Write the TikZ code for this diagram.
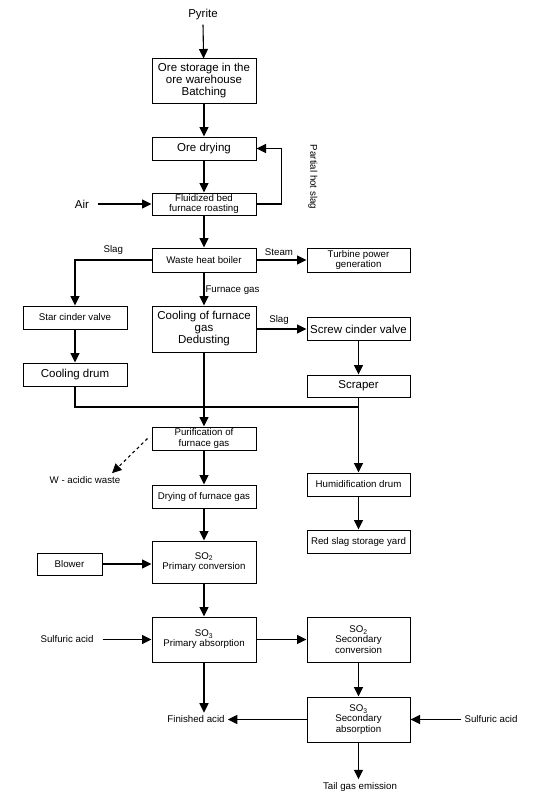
\documentclass[tikz,border=0pt]{standalone}
\usepackage{fontspec}
\setmainfont{Liberation Sans}
\usepackage{tikz}
\usetikzlibrary{arrows.meta, calc}

\newcommand{\bigtxt}{\fontsize{11.5}{12}\selectfont}
\newcommand{\smalltxt}{\fontsize{9.7}{10.2}\selectfont}

\tikzset{
  unitbox/.style={draw, line width=1pt, align=center, inner sep=1pt, minimum width=104pt},
  lbl/.style={align=center, inner sep=1pt, font=\smalltxt},
  flow/.style={line width=1.1pt, -{Triangle[length=9.5pt,width=9pt]}},
  line/.style={line width=1.1pt}
}

\begin{document}
\begin{tikzpicture}[x=1pt, y=-1pt]
      \useasboundingbox (0,0) rectangle (533,800);
      % main column
      \node[lbl, font=\bigtxt] (pyrite) at (203,15) {Pyrite};
      \node[unitbox, font=\bigtxt, minimum height=44pt] (orestore) at (204,81) {Ore storage in the\\ore warehouse\\Batching};
      \node[unitbox, font=\bigtxt, minimum height=23pt] (oredry) at (204,148.5) {Ore drying};
      \node[unitbox, font=\smalltxt, minimum height=22pt] (roast) at (204,204) {Fluidized bed\\furnace roasting};
      \node[lbl, font=\bigtxt] (air) at (82,204) {Air};
      \node[lbl, rotate=-90] (hotslag) at (313,177) {Partial hot slag};
      \node[unitbox, font=\smalltxt, minimum height=24pt] (boiler) at (204,260) {Waste heat boiler};
      \node[unitbox, font=\smalltxt, minimum height=24pt, minimum width=103pt] (turbine) at (358.5,260) {Turbine power\\generation};
      \node[unitbox, font=\bigtxt, minimum height=46pt] (coolgas) at (204,329) {Cooling of furnace\\gas\\Dedusting};
      % slag branches
      \node[unitbox, font=\smalltxt, minimum height=23pt] (starvalve) at (75,317.5) {Star cinder valve};
      \node[unitbox, font=\bigtxt, minimum height=23pt] (cooldrum) at (75,374.5) {Cooling drum};
      \node[unitbox, font=\bigtxt, minimum height=23pt, minimum width=103pt] (screwvalve) at (358.5,329) {Screw cinder valve};
      \node[unitbox, font=\bigtxt, minimum height=22pt, minimum width=103pt] (scraper) at (358.5,386) {Scraper};
      \node[unitbox, font=\smalltxt, minimum height=23pt, minimum width=103pt] (humid) at (358.5,484.5) {Humidification drum};
      \node[unitbox, font=\smalltxt, minimum height=23pt, minimum width=103pt] (redslag) at (358.5,541.5) {Red slag storage yard};
      \coordinate (merge) at (358.5,407);
      % gas line
      \node[unitbox, font=\smalltxt, minimum height=23pt] (purify) at (204,438.5) {Purification of\\furnace gas};
      \node[lbl] (waste) at (85,480) {W - acidic waste};
      \node[unitbox, font=\smalltxt, minimum height=23pt] (drygas) at (204,496.5) {Drying of furnace gas};
      \node[unitbox, font=\smalltxt, minimum height=42pt] (conv1) at (204,562) {SO\textsubscript{2}\\Primary conversion};
      \node[unitbox, font=\smalltxt, minimum height=22pt, minimum width=65pt] (blower) at (69.5,564) {Blower};
      \node[unitbox, font=\smalltxt, minimum height=45pt] (absorb1) at (204,639.5) {SO\textsubscript{3}\\Primary absorption};
      \node[lbl] (acidL) at (67,639.5) {Sulfuric acid};
      \node[unitbox, font=\smalltxt, minimum height=45pt, minimum width=103pt] (conv2) at (358.5,639.5) {SO\textsubscript{2}\\Secondary\\conversion};
      \node[unitbox, font=\smalltxt, minimum height=45pt, minimum width=103pt] (absorb2) at (358.5,719.5) {SO\textsubscript{3}\\Secondary\\absorption};
      \node[lbl] (finished) at (196,719.5) {Finished acid};
      \node[lbl] (acidR) at (491,719.5) {Sulfuric acid};
      \node[lbl] (tail) at (360,787) {Tail gas emission};

      % connectors
      \draw[flow] ([yshift=-3pt]pyrite.south) -- (orestore);
      \draw[flow] (orestore) -- (oredry);
      \draw[flow] (oredry) -- (roast);
      \draw[flow] ([xshift=8pt]air.east) -- (roast);
      \draw[flow] (roast.east) -- ++(25,0) |- (oredry.east);
      \draw[flow] (roast) -- (boiler);
      \draw[flow] (boiler) -- node[lbl, above=3pt, pos=0.45] {Steam} (turbine);
      \draw[flow] (boiler.west) -| node[lbl, above=4pt, pos=0.25] {Slag} (starvalve);
      \draw[flow] (boiler) -- node[lbl, right, pos=0.55] {Furnace gas} (coolgas);
      \draw[flow] (starvalve) -- (cooldrum);
      \draw[flow] (coolgas) -- node[lbl, above=3pt, pos=0.45] {Slag} (screwvalve);
      \draw[flow] (screwvalve) -- (scraper);
      \draw[line] (cooldrum.south) |- (merge);
      \draw[flow] (scraper) -- (humid);
      \draw[flow] (humid) -- (redslag);
      \draw[flow] (coolgas) -- (purify);
      \draw[flow, dashed] ([xshift=-4pt]purify.west) -- ([xshift=27pt,yshift=2pt]waste.north);
      \draw[flow] (purify) -- (drygas);
      \draw[flow] (drygas) -- (conv1);
      \draw[flow] (blower) -- (blower -| conv1.west);
      \draw[flow] (conv1) -- (absorb1);
      \draw[flow] ([xshift=8pt]acidL.east) -- (absorb1);
      \draw[flow] (absorb1) -- (conv2);
      \draw[flow] (absorb1) -- ([yshift=2pt]absorb1 |- finished.north);
      \draw[flow] (conv2) -- (absorb2);
      \draw[flow] (absorb2) -- ([xshift=2pt]finished.east);
      \draw[flow] ([xshift=-2pt]acidR.west) -- (absorb2);
      \draw[flow] (absorb2) -- ([yshift=2pt]absorb2 |- tail.north);
    \end{tikzpicture}
\end{document}
